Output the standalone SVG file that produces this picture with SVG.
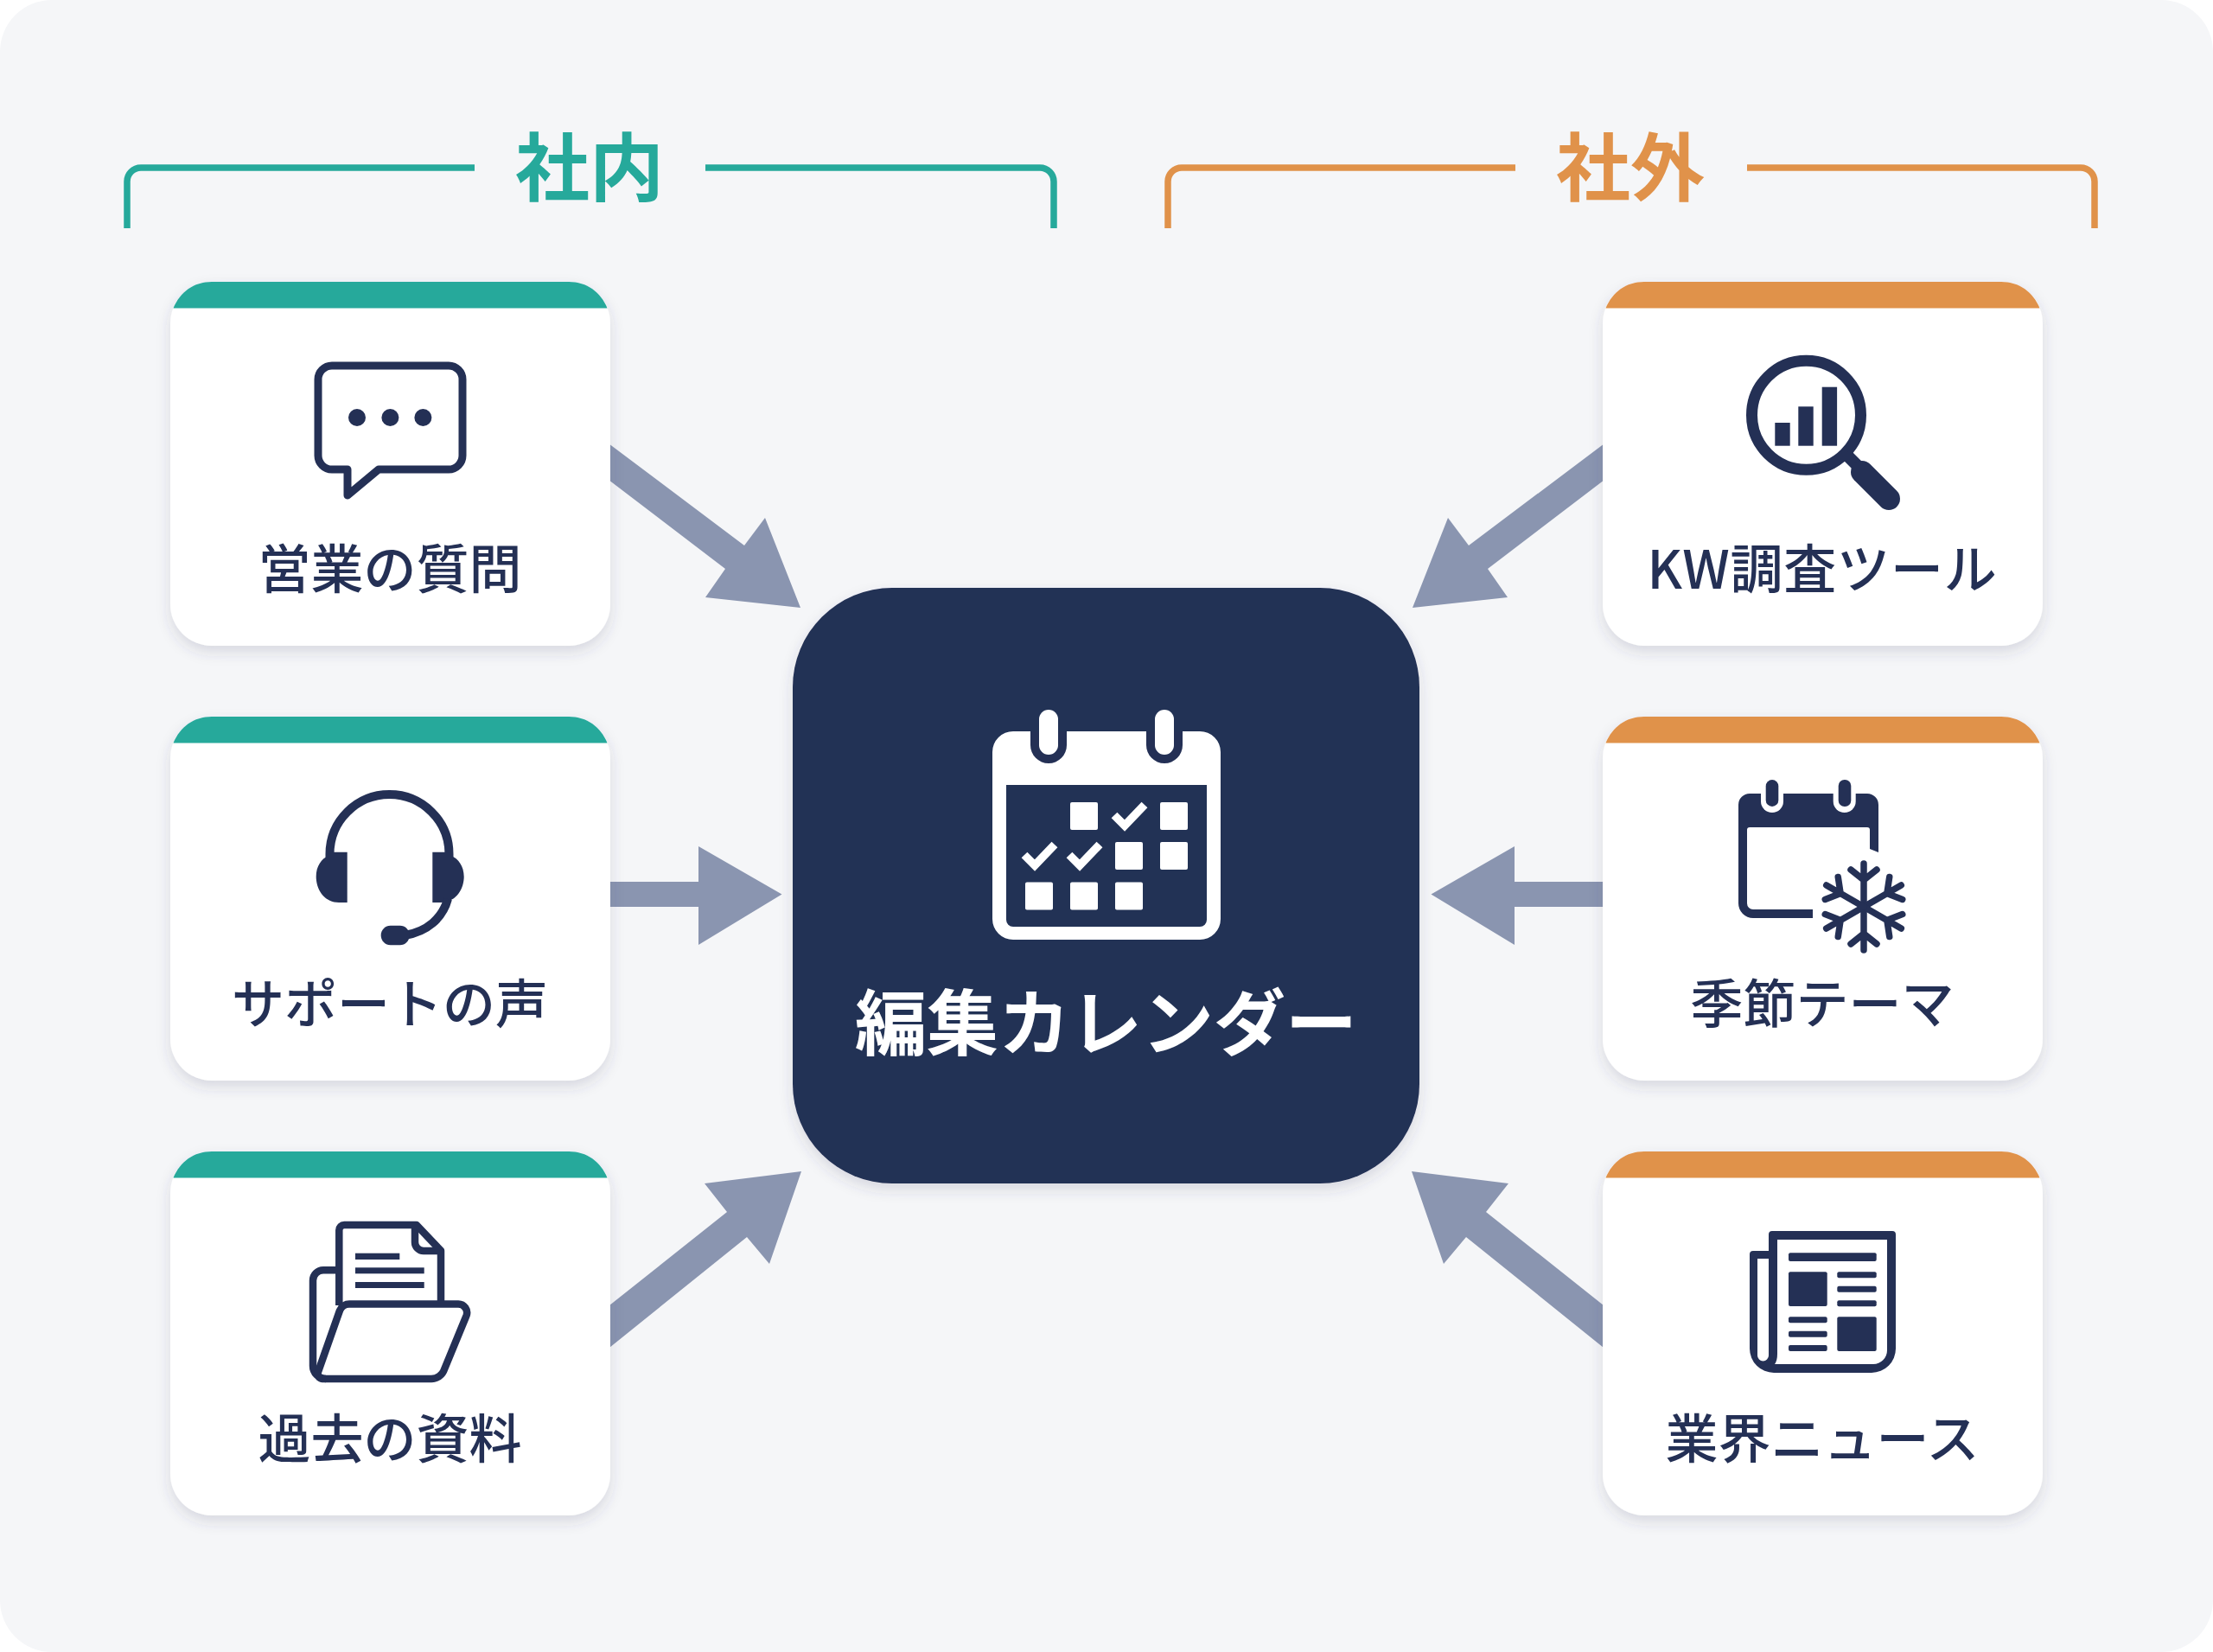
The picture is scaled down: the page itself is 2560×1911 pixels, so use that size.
<svg xmlns="http://www.w3.org/2000/svg" xmlns:xlink="http://www.w3.org/1999/xlink" width="2560" height="1911" viewBox="0 0 2560 1911">
<style>
.teal{fill:#26a99b}.orange{fill:#e0924a}
.brT{fill:none;stroke:#26a99b;stroke-width:7.5}.brO{fill:none;stroke:#e0924a;stroke-width:7.5}
.title{font-family:"Noto Sans CJK JP","Noto Sans",sans-serif;font-size:86px;font-weight:700;text-anchor:middle}
.label{font-family:"Noto Sans CJK JP","Noto Sans",sans-serif;font-size:61px;font-weight:500;fill:#243055;text-anchor:middle}
.card{fill:#fff;filter:url(#sh)}
.navy{fill:#243055}.white{fill:#fff}
.ln{fill:none;stroke:#243055;stroke-linejoin:round}
.arrow{fill:#8a95b0}
</style>
<defs>
<filter id="sh" x="-10%" y="-10%" width="120%" height="125%"><feDropShadow dx="0" dy="7" stdDeviation="8" flood-color="#39415f" flood-opacity="0.16"/></filter>
<path id="cap" d="M3.5,30.5C11,12 27,0 48,0H461C482,0 498,12 505.5,30.5Z"/>
<rect id="cardr" width="509" height="421" rx="48"/>
<g id="arm"><path d="M0,0V-50M0,-31L-15,-43M0,-31L15,-43"/></g>
<path id="chk" d="M-12,-12L0,0L23,-24" fill="none" stroke="#fff" stroke-width="9.5"/>
</defs>
<rect width="2560" height="1911" fill="#fff"/>
<rect id="background" width="2560" height="1911" rx="60" fill="#f5f6f8"/>

<g id="bracket-internal">
<path class="brT" d="M147,264V210a16,16 0 0 1 16,-16H549M816,194H1203a16,16 0 0 1 16,16V264"/>
<text class="title teal" x="682" y="226">社内</text>
</g>
<g id="bracket-external">
<path class="brO" d="M1351,264V210a16,16 0 0 1 16,-16H1753M2021,194H2407a16,16 0 0 1 16,16V264"/>
<text class="title orange" x="1886" y="226">社外</text>
</g>

<g id="connectors">
<polygon class="arrow" points="700,510 861,631 885,599 926,703 816,691 839,658 700,552"/>
<polygon class="arrow" points="700,1020 808,1020 808,979 904.5,1034.5 808,1093 808,1049 700,1049"/>
<polygon class="arrow" points="700,1514 841,1402 815,1369 927,1355 890,1462 864,1431 700,1563"/>
<polygon class="arrow" points="1860,510 1699,631 1675,599 1634,703 1744,691 1721,658 1860,552"/>
<polygon class="arrow" points="1860,1020 1752,1020 1752,979 1655.5,1034.5 1752,1093 1752,1049 1860,1049"/>
<polygon class="arrow" points="1860,1514 1719,1402 1745,1369 1633,1355 1670,1462 1696,1431 1860,1563"/>
</g>

<g id="node-sales">
<use href="#cardr" x="197" y="326" class="card"/><use href="#cap" x="197" y="326" class="teal"/>
<path class="ln" stroke-width="9" stroke-linejoin="miter" stroke-miterlimit="10" d="M384,423H519a16,16 0 0 1 16,16V527a16,16 0 0 1 -16,16H438L402,573V543H384a16,16 0 0 1 -16,-16V439a16,16 0 0 1 16,-16Z"/>
<circle class="navy" cx="413" cy="483" r="10"/><circle class="navy" cx="451.4" cy="483" r="10"/><circle class="navy" cx="489.4" cy="483" r="10"/>
<text class="label" x="451" y="681">営業の質問</text>
</g>

<g id="node-support">
<use href="#cardr" x="197" y="829" class="card"/><use href="#cap" x="197" y="829" class="teal"/>
<path class="ln" stroke-width="10" d="M381.5,995V988A69,69 0 0 1 519.5,988V995"/>
<path class="navy" d="M401.7,985.7V1044H392C376,1044 365.7,1030 365.7,1014C365.7,1002 372,993 380,990V985.7Z"/>
<path class="navy" d="M500.3,985.7V1044H510C526,1044 536.7,1030 536.7,1014C536.7,1002 530,993 522,990V985.7Z"/>
<path class="ln" stroke-width="10" d="M518,1040C512,1062 494,1078 468,1082"/>
<rect class="navy" x="440.7" y="1070.7" width="33" height="22.6" rx="11"/>
<text class="label" x="451" y="1184">サポートの声</text>
</g>

<g id="node-archive">
<use href="#cardr" x="197" y="1332" class="card"/><use href="#cap" x="197" y="1332" class="teal"/>
<path class="ln" stroke-width="8.5" d="M392.3,1510V1423a6,6 0 0 1 6,-6H481.7L510,1446.7V1506"/>
<path class="ln" stroke-width="8.5" d="M480,1420V1437a10,10 0 0 0 10,10H510"/>
<rect class="navy" x="411" y="1449.7" width="51.3" height="7.3"/>
<rect class="navy" x="411" y="1466.3" width="79.7" height="7"/>
<rect class="navy" x="411" y="1483" width="79.7" height="7"/>
<path class="ln" stroke-width="8.5" d="M392,1469.3H374a12,12 0 0 0 -12,12V1580a15,15 0 0 0 15,15"/>
<path class="ln" stroke-width="8.5" d="M405,1508.5H530a10,10 0 0 1 9.5,13.5L514,1584a16,16 0 0 1 -15,11H373a6,6 0 0 1 -5,-8L393,1516a12,12 0 0 1 12,-7.5Z"/>
<text class="label" x="451" y="1687">過去の資料</text>
</g>

<g id="node-keyword">
<use href="#cardr" x="1854" y="326" class="card"/><use href="#cap" x="1854" y="326" class="orange"/>
<circle class="ln" cx="2089.5" cy="480.3" r="63" stroke-width="13"/>
<rect class="navy" x="2053.3" y="489" width="17.4" height="26.7"/>
<rect class="navy" x="2080.3" y="470.3" width="17.4" height="45.4"/>
<rect class="navy" x="2107.7" y="447.7" width="17.4" height="68"/>
<path class="ln" stroke-width="14" d="M2135,525L2158,548"/>
<path class="ln" stroke-width="26" stroke-linecap="round" d="M2154,546L2185,577"/>
<text class="label" x="2108" y="681" letter-spacing="0.8">KW調査ツール</text>
</g>

<g id="node-season">
<use href="#cardr" x="1854" y="829" class="card"/><use href="#cap" x="1854" y="829" class="orange"/>
<path class="navy" d="M2024,918H2160a13,13 0 0 1 13,13V986L2163,982V960a3,3 0 0 0 -3,-3H2024a3,3 0 0 0 -3,3V1045a7,7 0 0 0 7,7H2097V1062H2028a17,17 0 0 1 -17,-17V931a13,13 0 0 1 13,-13Z"/>
<rect class="white" x="2037" y="902" width="26" height="38" rx="13"/><rect class="white" x="2120.7" y="902" width="26" height="38" rx="13"/>
<rect class="navy" x="2042.7" y="902" width="14.6" height="31" rx="7.3"/><rect class="navy" x="2126.7" y="902" width="14.6" height="31" rx="7"/>
<g class="ln" stroke-width="7.5" stroke-linecap="round">
<use href="#arm" transform="translate(2156,1049)"/><use href="#arm" transform="translate(2156,1049) rotate(60)"/><use href="#arm" transform="translate(2156,1049) rotate(120)"/><use href="#arm" transform="translate(2156,1049) rotate(180)"/><use href="#arm" transform="translate(2156,1049) rotate(240)"/><use href="#arm" transform="translate(2156,1049) rotate(300)"/>
</g>
<text class="label" x="2108" y="1184">季節テーマ</text>
</g>

<g id="node-news">
<use href="#cardr" x="1854" y="1332" class="card"/><use href="#cap" x="1854" y="1332" class="orange"/>
<path class="navy" fill-rule="evenodd" d="M2050,1424H2189a4,4 0 0 1 4,4V1560a28,28 0 0 1 -28,28H2052a28,28 0 0 1 -28,-28V1451a4,4 0 0 1 4,-4H2046V1428a4,4 0 0 1 4,-4ZM2056,1434V1566q0,8 -3,12H2167a16,16 0 0 0 16,-16V1434ZM2033,1456V1568a6.5,6.5 0 0 0 13,0V1456Z"/>
<rect class="navy" x="2069" y="1449.3" width="101.7" height="9.7" rx="2"/>
<rect class="navy" x="2069" y="1471.3" width="44.7" height="39.7" rx="2"/>
<rect class="navy" x="2125.3" y="1471.3" width="45.4" height="7" rx="2"/>
<rect class="navy" x="2125.3" y="1487.7" width="45.4" height="7" rx="2"/>
<rect class="navy" x="2125.3" y="1504.3" width="45.4" height="7" rx="2"/>
<rect class="navy" x="2069" y="1523.3" width="44.7" height="7" rx="2"/>
<rect class="navy" x="2069" y="1539.7" width="44.7" height="7" rx="2"/>
<rect class="navy" x="2069" y="1556" width="44.7" height="7" rx="2"/>
<rect class="navy" x="2125.3" y="1523.3" width="45.4" height="39.7" rx="2"/>
<text class="label" x="2108" y="1687">業界ニュース</text>
</g>

<g id="node-calendar">
<rect class="navy" x="917" y="680" width="725" height="689" rx="115" filter="url(#sh)"/>
<path class="white" fill-rule="evenodd" d="M1172,846H1388a24,24 0 0 1 24,24V1063a24,24 0 0 1 -24,24H1172a24,24 0 0 1 -24,-24V870a24,24 0 0 1 24,-24ZM1164,908V1064a8,8 0 0 0 8,8H1388a8,8 0 0 0 8,-8V908Z"/>
<path class="navy" d="M1192,846V862a21,21 0 0 0 42,0V846Z"/>
<path class="navy" d="M1326,846V862a21,21 0 0 0 42,0V846Z"/>
<rect class="white" x="1202" y="821" width="22" height="52" rx="11"/>
<rect class="white" x="1336" y="821" width="22" height="52" rx="11"/>
<g class="white">
<rect x="1238" y="928" width="32" height="32" rx="2"/><rect x="1342" y="928" width="32" height="32" rx="2"/>
<rect x="1290" y="974" width="32" height="32" rx="2"/><rect x="1342" y="974" width="32" height="32" rx="2"/>
<rect x="1186" y="1020.5" width="32" height="32" rx="2"/><rect x="1238" y="1020.5" width="32" height="32" rx="2"/><rect x="1290" y="1020.5" width="32" height="32" rx="2"/>
</g>
<use href="#chk" x="1301" y="955"/><use href="#chk" x="1197" y="1001"/><use href="#chk" x="1249" y="1001"/>
<text x="1279.5" y="1214" font-family="'Noto Sans CJK JP','Noto Sans',sans-serif" font-size="83" font-weight="700" fill="#fff" text-anchor="middle">編集カレンダー</text>
</g>
</svg>
